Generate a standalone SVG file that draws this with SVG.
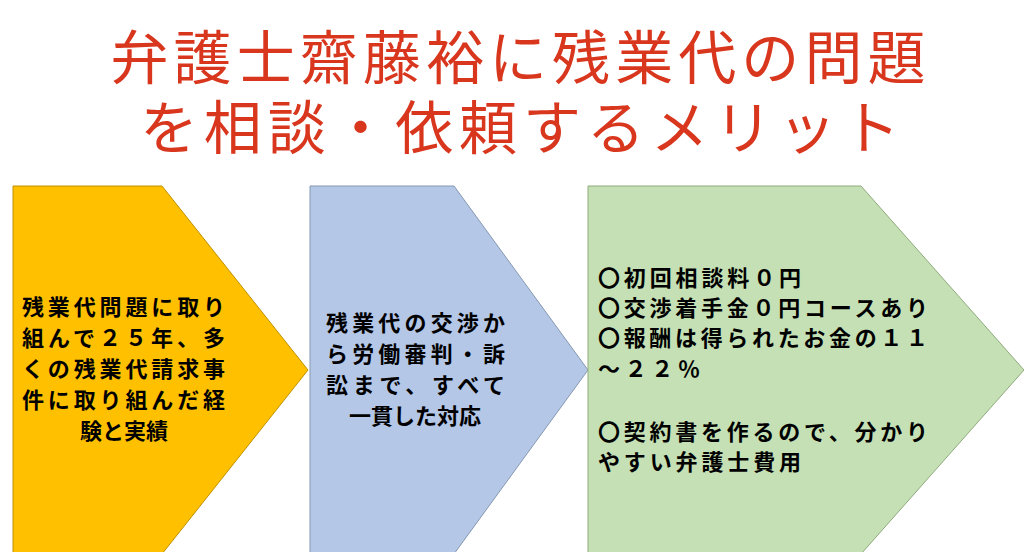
<svg xmlns="http://www.w3.org/2000/svg" width="1024" height="552" viewBox="0 0 1024 552">
<style>
.t{font-family:"Noto Sans CJK JP","Noto Sans CJK SC",sans-serif;font-weight:bold;font-size:22px;fill:#000}
.title{font-family:"Noto Sans CJK JP","Noto Sans CJK SC",sans-serif;font-size:58px;fill:#d9361e}
</style>
<rect width="1024" height="552" fill="#fff"/>
<g id="title">
<text class="title" x="518" y="79" text-anchor="middle" textLength="815">弁護士齋藤裕に残業代の問題</text>
<text class="title" x="520" y="149" text-anchor="middle" textLength="760">を相談・依頼するメリット</text>
</g>
<g id="node1">
<polygon points="13,186 162,186 308,370 162,554 13,554" fill="#ffc000" stroke="#bf9000" stroke-width="1"/>
<text class="t" x="22" y="315" textLength="203">残業代問題に取り</text>
<text class="t" x="22" y="346" textLength="203">組んで２５年、多</text>
<text class="t" x="22" y="377" textLength="203">くの残業代請求事</text>
<text class="t" x="22" y="408" textLength="203">件に取り組んだ経</text>
<text class="t" x="124" y="439" text-anchor="middle">験と実績</text>
</g>
<g id="node2">
<polygon points="310,186 454,186 588,370 454,554 310,554" fill="#b4c7e7" stroke="#8497b0" stroke-width="1"/>
<text class="t" x="326" y="331" textLength="179">残業代の交渉か</text>
<text class="t" x="326" y="362" textLength="179">ら労働審判・訴</text>
<text class="t" x="326" y="393" textLength="179">訟まで、すべて</text>
<text class="t" x="415" y="424" text-anchor="middle">一貫した対応</text>
</g>
<g id="node3">
<polygon points="588,186 861,186 1024,370 861,554 588,554" fill="#c5e0b4" stroke="#8faa7c" stroke-width="1"/>
<text class="t" x="598" y="286" textLength="203">〇初回相談料０円</text>
<text class="t" x="598" y="316" textLength="330">〇交渉着手金０円コースあり</text>
<text class="t" x="598" y="346" textLength="330">〇報酬は得られたお金の１１</text>
<text class="t" x="598" y="377" textLength="102">～２２％</text>
<text class="t" x="598" y="440" textLength="330">〇契約書を作るので、分かり</text>
<text class="t" x="598" y="470" textLength="203">やすい弁護士費用</text>
</g>
<g id="connectors"/>
</svg>
